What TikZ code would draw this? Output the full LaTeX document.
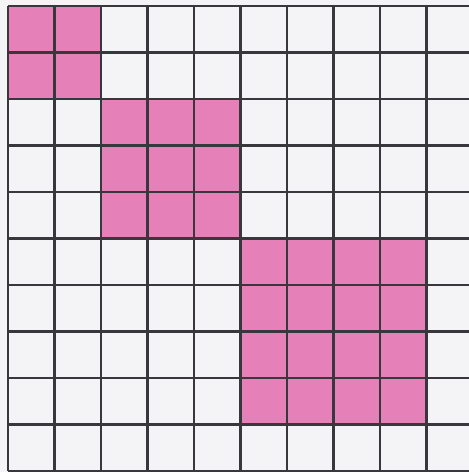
\documentclass[tikz,border=0pt]{standalone}
\definecolor{cellpink}{RGB}{229,128,184}
\definecolor{paper}{RGB}{244,244,246}
\definecolor{gridline}{RGB}{55,55,60}
\tikzset{pinkcell/.style={fill=cellpink, draw=none}, gridstyle/.style={draw=gridline, line width=2.2pt}}
\begin{document}
\begin{tikzpicture}[x=1pt,y=-1pt]
\useasboundingbox (0,0) rectangle (469,472);
\fill[paper] (0,0) rectangle (469,472);
\def\gx{8}\def\gy{6}\def\gs{46.5}
% pink blocks
\fill[pinkcell] (\gx,\gy) rectangle ({\gx+2*\gs},{\gy+2*\gs});
\fill[pinkcell] ({\gx+2*\gs},{\gy+2*\gs}) rectangle ({\gx+5*\gs},{\gy+5*\gs});
\fill[pinkcell] ({\gx+5*\gs},{\gy+5*\gs}) rectangle ({\gx+9*\gs},{\gy+9*\gs});
% grid
\foreach \i in {0,...,10} {
  \draw[gridstyle] ({\gx+\i*\gs},\gy) -- ({\gx+\i*\gs},{\gy+10*\gs});
  \draw[gridstyle] (\gx,{\gy+\i*\gs}) -- ({\gx+10*\gs},{\gy+\i*\gs});
}
\end{tikzpicture}
\end{document}
